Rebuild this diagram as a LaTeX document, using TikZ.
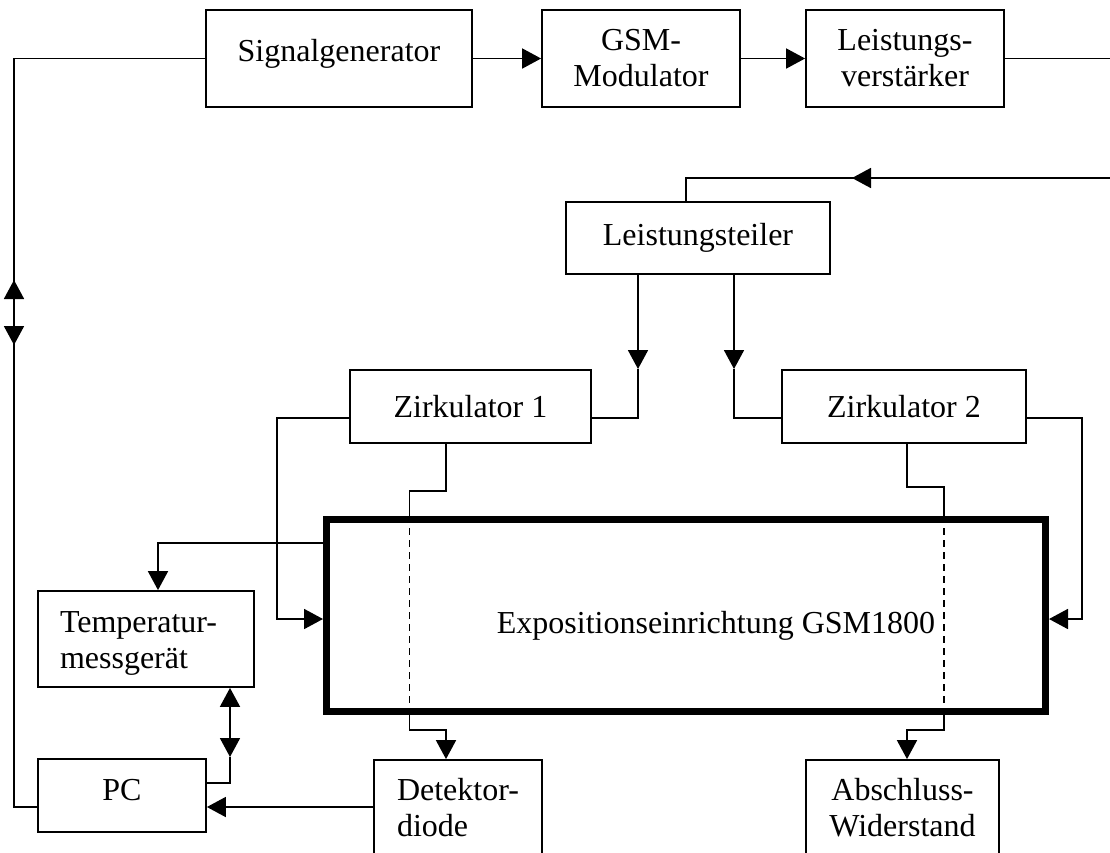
\documentclass[tikz,border=0pt]{standalone}
\usepackage{fontspec}
\setmainfont{Liberation Serif}
\usetikzlibrary{arrows.meta,calc}
\begin{document}
\begin{tikzpicture}[x=1pt,y=-1pt,
  txt/.style={font=\fontsize{32}{36}\selectfont},
  box/.style={draw,line width=1.8pt,rectangle,inner sep=0pt,txt,align=center},
  ln/.style={line width=1.8pt},
  arr/.style={ln,-{Triangle[length=19pt,width=20pt]}},
  dbl/.style={ln,{Triangle[length=19pt,width=20pt]}-{Triangle[length=19pt,width=20pt]}},
  dsh/.style={line width=1.4pt,dash pattern=on 7pt off 5pt}]
\fill[white] (0,0) rectangle (1110,852);
\useasboundingbox (0,0) rectangle (1110,852);

% boxes
\node[box,minimum width=266pt,minimum height=97pt,text height=22pt,text depth=16pt] (sg) at (339,58.5) {Signalgenerator};
\node[box,minimum width=198pt,minimum height=97pt] (gsm) at (641,58.5) {GSM-\\Modulator};
\node[box,minimum width=198pt,minimum height=97pt] (lv) at (905,58.5) {Leistungs-\\verstärker};
\node[box,minimum width=264pt,minimum height=72pt] (lt) at (698,238) {Leistungsteiler};
\node[box,minimum width=241pt,minimum height=73pt] (z1) at (470.5,406.5) {Zirkulator 1};
\node[box,minimum width=244pt,minimum height=73pt] (z2) at (904,406.5) {Zirkulator 2};
\node[draw,line width=7pt,minimum width=719pt,minimum height=192pt,inner sep=0pt] (exp) at (686,615.5) {};
\node[txt,anchor=base] (expt) at (716,633) {Expositionseinrichtung GSM1800};
\node[box,minimum width=216pt,minimum height=96pt,align=left,text width=172pt,text height=30pt] (temp) at (146,639) {Temperatur-\\messgerät};
\node[box,minimum width=168pt,minimum height=73pt,text height=21pt,text depth=12pt] (pc) at (122,795.5) {PC};
\node[box,minimum width=168pt,minimum height=96pt,align=left] (det) at (458,808) {Detektor-\\diode};
\node[box,minimum width=193pt,minimum height=96pt] (abs) at (902.5,808) {Abschluss-\\Widerstand};

% top chain
\draw[arr] (sg) -- (gsm);
\draw[arr] (gsm) -- (lv);
\coordinate (eR1) at (1112,58.5);
\draw[ln] (lv) -- (eR1);
% return line
\coordinate (eR2) at (1112,178);
\coordinate (rt) at (852,178);
\draw[arr] (eR2) -- (rt);
\draw[ln] (eR2) -| (lt.north -| 686,0);

% Leistungsteiler to Zirkulatoren
\coordinate (a1) at (lt.south -| 638,0);
\coordinate (a1t) at (638,369);
\draw[arr] (a1) -- (a1t);
\draw[ln] (a1t) |- (z1.east |- 0,418);
\coordinate (a2) at (lt.south -| 734,0);
\coordinate (a2t) at (734,369);
\draw[arr] (a2) -- (a2t);
\draw[ln] (a2t) |- (z2.west |- 0,418);

% Zirkulator sides to exposition
\draw[arr] (z1.west |- 0,418) -| (277,619) -- (exp.west |- 0,619);
\draw[arr] (z2.east |- 0,418) -| (1082,619) -- (exp.east |- 0,619);

% exposition to Temperaturmessgeraet
\draw[arr] (exp.west |- 0,543) -| (temp.north -| 158,0);

% Zirkulator 1 through exposition to Detektordiode
\draw[ln] (z1.south -| 446,0) |- (409.5,491) -- (exp.north -| 409.5,0);
\draw[dsh] (exp.north -| 409.5,0) -- (exp.south -| 409.5,0);
\draw[arr] (exp.south -| 409.5,0) |- (446,730) -- (det.north -| 446,0);

% Zirkulator 2 through exposition to Abschlusswiderstand
\draw[ln] (z2.south -| 907,0) |- (944,487) -- (exp.north -| 944,0);
\draw[dsh] (exp.north -| 944,0) -- (exp.south -| 944,0);
\draw[arr] (exp.south -| 944,0) |- (907,730) -- (abs.north -| 907,0);

% Temperaturmessgeraet <-> PC
\coordinate (tp) at (230,757);
\draw[dbl] (temp.south -| 230,0) -- (tp);
\draw[ln] (tp) |- (pc.east |- 0,783);

% Detektordiode -> PC
\draw[arr] (det.west |- 0,807) -- (pc.east |- 0,807);

% PC <-> Signalgenerator loop
\draw[ln] (sg.west) -| (14,807) -- (pc.west |- 0,807);
\coordinate (la) at (14,280);
\coordinate (lb) at (14,345);
\draw[dbl] (la) -- (lb);
\end{tikzpicture}
\end{document}
